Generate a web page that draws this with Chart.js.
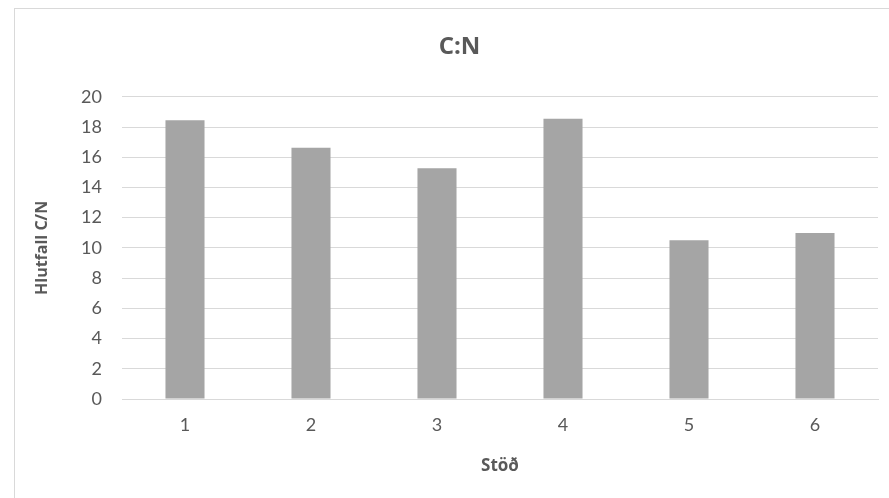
<!DOCTYPE html>
<html>
<head>
<meta charset="utf-8">
<title>C:N</title>
<script src="https://cdn.jsdelivr.net/npm/chart.js@4/dist/chart.umd.min.js"></script>
<style>
  html, body { margin: 0; padding: 0; background: #ffffff; overflow: hidden; }
  #frame {
    position: absolute; left: 14px; top: 8px; width: 900px; height: 520px;
    border: 1px solid #d9d9d9; background: #ffffff; z-index: 0;
  }
  #chart { position: absolute; left: 0; top: 0; z-index: 1; }
</style>
</head>
<body>
<div id="frame"></div>
<canvas id="chart" width="889" height="498"></canvas>
<script>
// Stations and their carbon:nitrogen ratio
const stations = ['1', '2', '3', '4', '5', '6'];
const cnRatio = [18.44, 16.63, 15.27, 18.55, 10.5, 10.98];
const yTicks = [0, 2, 4, 6, 8, 10, 12, 14, 16, 18, 20];

const textColor = '#595959';
const gridColor = '#d9d9d9';
const family = 'Lato, "Open Sans", sans-serif';
const titleFamily = '"Open Sans", Lato, sans-serif';

new Chart(document.getElementById('chart'), {
  type: 'bar',
  data: {
    labels: stations,
    datasets: [{
      data: cnRatio,
      backgroundColor: '#a5a5a5',
      borderWidth: 0,
      barPercentage: 0.31,
      categoryPercentage: 1.0
    }]
  },
  options: {
    responsive: false,
    animation: false,
    layout: { padding: { left: 41, right: 11, top: 10, bottom: 26 } },
    plugins: {
      legend: { display: false },
      tooltip: { enabled: false },
      title: {
        display: true,
        text: 'C:N',
        color: textColor,
        font: { family: titleFamily, size: 24, weight: 'bold' },
        padding: { top: 23, bottom: 35 }
      }
    },
    scales: {
      x: {
        grid: { display: false, drawTicks: false },
        border: { display: true, color: gridColor, width: 1 },
        ticks: { color: textColor, font: { family, size: 18 }, padding: 15 },
        title: {
          display: true,
          text: 'Stöð',
          color: textColor,
          font: { family: titleFamily, size: 17, weight: 'bold' },
          padding: { top: 0, bottom: -4 }
        },
        afterFit: (scale) => { scale.height = 73; }
      },
      y: {
        min: yTicks[0],
        max: yTicks[yTicks.length - 1],
        afterBuildTicks: (scale) => { scale.ticks = yTicks.map(v => ({ value: v })); },
        grid: { color: gridColor, lineWidth: 1, drawTicks: false },
        border: { display: false },
        ticks: { color: textColor, font: { family, size: 18 }, padding: 20 },
        title: {
          display: true,
          text: 'Hlutfall C/N',
          color: textColor,
          font: { family: titleFamily, size: 16, weight: 'bold' },
          padding: { top: -8, bottom: 0 }
        },
        afterFit: (scale) => { scale.width = 81; }
      }
    }
  }
});
</script>
</body>
</html>
